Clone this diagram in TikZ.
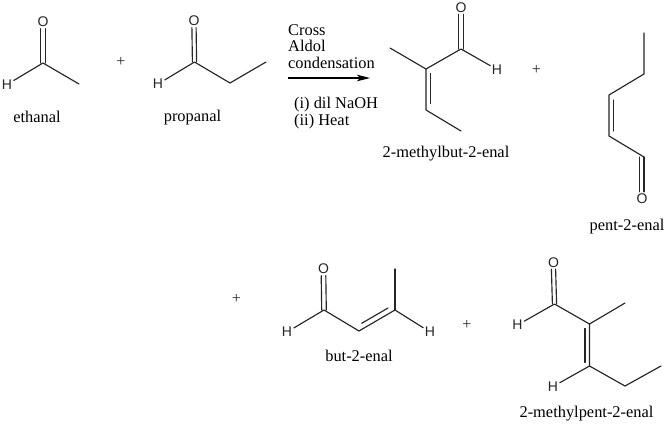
\documentclass[tikz,border=0pt]{standalone}
\usepackage{fontspec}
\setmainfont{Liberation Serif}
\newfontfamily\atomfont{Liberation Sans}
\usetikzlibrary{arrows.meta}
\tikzset{
  bond/.style={line width=1.15pt,black!85,line cap=round,line join=round},
  atom/.style={font=\atomfont\fontsize{14}{16}\selectfont,inner sep=1.5pt,text=black!85},
  chemname/.style={font=\fontsize{16.4}{18}\selectfont,anchor=base,inner sep=0pt,text=black},
  condtext/.style={font=\fontsize{16.4}{18}\selectfont,anchor=base west,inner sep=0pt,text=black},
  plussign/.style={font=\fontsize{16}{18}\selectfont,inner sep=0pt,text=black!85},
  rxn/.style={line width=1.15pt,black,-{Stealth[length=13pt,width=6.5pt,inset=3pt]}}
}
\begin{document}
\begin{tikzpicture}[x=1pt,y=-1pt]
\path[use as bounding box,fill=white] (0,0) rectangle (668,424);

% ethanal
\node[atom] (aO) at (43,22) {O};
\node[atom] (aH) at (7,84.5) {H};
\coordinate (aC) at (43,63);
\coordinate (aM) at (79,84);
\draw[bond] (aH) -- (aC) -- (aM);
\draw[bond] ([xshift=-2.3pt]aO.south) -- ([xshift=-2.3pt]aC);
\draw[bond] ([xshift=2.3pt]aO.south) -- ([xshift=2.3pt]aC);
\node[chemname] (aN) at (37,122) {ethanal};
\node[plussign] (p1) at (121,62) {+};

% propanal
\node[atom] (bO) at (194,21) {O};
\node[atom] (bH) at (158,84) {H};
\coordinate (bC) at (194.5,62);
\coordinate (bA) at (230,83);
\coordinate (bM) at (266,62);
\draw[bond] (bH) -- (bC) -- (bA) -- (bM);
\draw[bond] ([xshift=-2.1pt]bO.south) -- ([xshift=-2.1pt]bC);
\draw[bond] ([xshift=2.1pt]bO.south) -- ([xshift=2.1pt]bC);
\node[chemname] (bN) at (192.5,121.5) {propanal};

% reaction arrow
\coordinate (rS) at (288,78);
\coordinate (rE) at (370,78);
\draw[rxn] (rS) -- (rE);
\node[condtext] (c1) at (288,35) {Cross};
\node[condtext] (c2) at (288,51.5) {Aldol};
\node[condtext] (c3) at (288,68) {condensation};
\node[condtext] (c4) at (294,108) {(i) dil NaOH};
\node[condtext] (c5) at (294,125) {(ii) Heat};

% 2-methylbut-2-enal
\node[atom] (cO) at (461,7.5) {O};
\node[atom] (cH) at (497,69.5) {H};
\coordinate (cC) at (461,49);
\coordinate (cM) at (390,48);
\coordinate (c2C) at (426,69);
\coordinate (c3C) at (426,110);
\coordinate (cE) at (461,131);
\draw[bond] (cM) -- (c2C) -- (cC) -- (cH);
\draw[bond] (c2C) -- (c3C) -- (cE);
\draw[bond] ([xshift=4.6pt,yshift=-4.5pt]c2C) -- ([xshift=4.6pt,yshift=6.5pt]c3C);
\draw[bond] ([xshift=-2.3pt]cO.south) -- ([xshift=-2.3pt]cC);
\draw[bond] ([xshift=2.3pt]cO.south) -- ([xshift=2.3pt]cC);
\node[chemname] (cN) at (446,157) {2-methylbut-2-enal};
\node[plussign] (p2) at (536.5,70) {+};

% pent-2-enal
\coordinate (dT) at (644,33);
\coordinate (dA) at (644,74);
\coordinate (dB) at (609,95);
\coordinate (dD) at (609,136);
\coordinate (dC) at (644,157);
\node[atom] (dO) at (642,198.5) {O};
\draw[bond] (dT) -- (dA) -- (dB) -- (dD) -- (dC);
\draw[bond] ([xshift=4.6pt,yshift=-5pt]dB) -- ([xshift=4.6pt,yshift=5pt]dD);
\draw[bond] ([xshift=-4.3pt]dC) -- ([xshift=-4.3pt]dC |- dO.north);
\draw[bond] (dC) -- (dC |- dO.north);
\node[chemname] (dN) at (627,230) {pent-2-enal};

% but-2-enal
\node[plussign] (p3) at (236.5,298.5) {+};
\node[atom] (eO) at (323.5,269) {O};
\node[atom] (eH) at (287,332) {H};
\node[atom] (eR) at (430,332) {H};
\coordinate (eC) at (324,310);
\coordinate (eA) at (359,331);
\coordinate (eB) at (395,310);
\coordinate (eT) at (395,269);
\draw[bond] (eH) -- (eC) -- (eA) -- (eB) -- (eR);
\draw[bond] (eB) -- (eT);
\draw[bond] ([xshift=2.7pt,yshift=7.7pt]eA) -- ([xshift=-7pt,yshift=2pt]eB);
\draw[bond] ([xshift=-2.3pt]eO.south) -- ([xshift=-2.3pt]eC);
\draw[bond] ([xshift=2.3pt]eO.south) -- ([xshift=2.3pt]eC);
\node[chemname] (eN) at (359,361.5) {but-2-enal};
\node[plussign] (p4) at (467,325) {+};

% 2-methylpent-2-enal
\node[atom] (fO) at (553.5,262.5) {O};
\node[atom] (fH) at (517.5,325) {H};
\node[atom] (fL) at (553,386.5) {H};
\coordinate (fC) at (554.5,304);
\coordinate (fA) at (589.5,324);
\coordinate (fM) at (625,303);
\coordinate (fB) at (589.5,366);
\coordinate (fD) at (625,386);
\coordinate (fE) at (661,366);
\draw[bond] (fH) -- (fC) -- (fA) -- (fM);
\draw[bond] (fA) -- (fB) -- (fD) -- (fE);
\draw[bond] (fB) -- (fL);
\draw[bond] ([xshift=-4.5pt,yshift=-4.5pt]fA) -- ([xshift=-4.5pt,yshift=3.5pt]fB);
\draw[bond] ([xshift=-2.1pt]fO.south) -- ([xshift=-2.1pt]fC);
\draw[bond] ([xshift=2.1pt]fO.south) -- ([xshift=2.1pt]fC);
\node[chemname] (fN) at (586.5,417.5) {2-methylpent-2-enal};
\end{tikzpicture}
\end{document}
